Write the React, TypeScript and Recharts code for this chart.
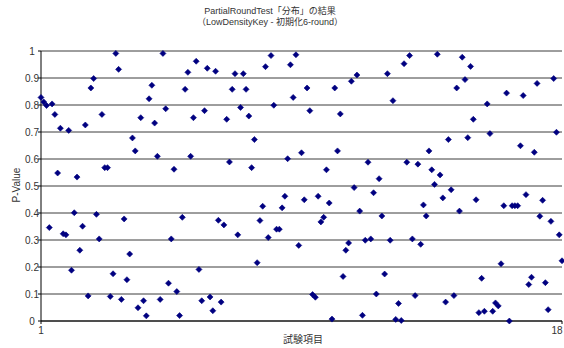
import React from "react";
import { ScatterChart, Scatter, XAxis, YAxis, CartesianGrid } from "recharts";

const pValues = [
  0.828, 0.811, 0.798, 0.346, 0.804, 0.765, 0.548, 0.714, 0.323, 0.319,
  0.706, 0.188, 0.401, 0.533, 0.262, 0.351, 0.726, 0.093, 0.863, 0.898,
  0.395, 0.304, 0.765, 0.568, 0.568, 0.091, 0.175, 0.991, 0.932, 0.080,
  0.378, 0.153, 0.248, 0.678, 0.630, 0.049, 0.753, 0.075,
  0.019, 0.823, 0.873, 0.733, 0.610, 0.080, 0.991, 0.786, 0.140, 0.304,
  0.562, 0.109, 0.020, 0.384, 0.858, 0.921, 0.610, 0.753, 0.962, 0.191,
  0.075, 0.779, 0.936, 0.089, 0.038, 0.925, 0.373, 0.070, 0.356, 0.747,
  0.589, 0.858, 0.916, 0.319, 0.791, 0.916, 0.858,
  0.759, 0.568, 0.672, 0.216, 0.372, 0.425, 0.942, 0.309, 0.983, 0.799,
  0.340, 0.340, 0.419, 0.462, 0.601, 0.949, 0.828, 0.986, 0.280, 0.623,
  0.449, 0.863, 0.779, 0.098, 0.088, 0.462, 0.367, 0.384, 0.560, 0.437,
  0.007, 0.863, 0.630, 0.767, 0.165, 0.262, 0.289, 0.888,
  0.494, 0.911, 0.407, 0.021, 0.299, 0.588, 0.304, 0.475, 0.100, 0.527,
  0.389, 0.174, 0.916, 0.299, 0.816, 0.006, 0.065, 0.002, 0.953, 0.588,
  0.983, 0.304, 0.094, 0.581, 0.284, 0.430, 0.389, 0.630, 0.560, 0.506,
  0.988, 0.541, 0.456, 0.070, 0.672, 0.486, 0.094,
  0.863, 0.407, 0.977, 0.894, 0.679, 0.943, 0.747, 0.449, 0.031, 0.158,
  0.036, 0.804, 0.694, 0.036, 0.067, 0.056, 0.212, 0.427, 0.844, 0.000,
  0.427, 0.427, 0.427, 0.649, 0.835, 0.468, 0.135, 0.162, 0.625, 0.880,
  0.388, 0.447, 0.142, 0.042, 0.369, 0.898, 0.699, 0.319, 0.223,
];

const yTicks = [0, 0.1, 0.2, 0.3, 0.4, 0.5, 0.6, 0.7, 0.8, 0.9, 1];
const yTickLabels = ["0", "0.1", "0.2", "0.3", "0.4", "0.5", "0.6", "0.7", "0.8", "0.9", "1"];
const xTickLabels = ["1", "18"];
const titleLines = ["PartialRoundTest「分布」の結果", "（LowDensityKey - 初期化6-round）"];
const xTitle = "試験項目";
const yTitle = "P-Value";

const data = pValues.map((p, i) => ({ trial: i + 1, p }));
const xTicks = [1, pValues.length];

const FONT = "'Liberation Sans', Arial, 'Noto Sans CJK JP', sans-serif";
const TEXT = "#333";

const Diamond = (props: any) => {
  const { cx, cy } = props;
  if (cx == null || cy == null) return null;
  const r = 3;
  return (
    <path
      d={`M${cx},${cy - r} L${cx + r},${cy} L${cx},${cy + r} L${cx - r},${cy} Z`}
      fill="#000080"
      stroke="#000080"
      strokeWidth={0.6}
    />
  );
};

const YTick = (props: any) => {
  const { y, payload } = props;
  const idx = yTicks.findIndex((t) => Math.abs(t - payload.value) < 1e-9);
  return (
    <text x={32} y={y} dy={3.5} textAnchor="middle" fontSize={10} fill={TEXT} fontFamily={FONT}>
      {idx >= 0 ? yTickLabels[idx] : ""}
    </text>
  );
};

const XTick = (props: any) => {
  const { x, y, payload } = props;
  const idx = xTicks.indexOf(payload.value);
  return (
    <text x={idx === 1 ? x - 5 : x} y={y} dy={8} textAnchor="middle" fontSize={10} fill={TEXT} fontFamily={FONT}>
      {idx >= 0 ? xTickLabels[idx] : ""}
    </text>
  );
};

export default function App() {
  return (
    <div style={{ position: "absolute", left: 0, top: 0, width: 564, height: 348, background: "#fff", fontFamily: FONT }}>
      <div style={{ position: "absolute", left: 0, width: 540, top: 6, textAlign: "center", fontSize: 9, lineHeight: "11px", color: TEXT }}>
        <div>{titleLines[0]}</div>
        <div>{titleLines[1]}</div>
      </div>
      <div
        style={{
          position: "absolute",
          left: 16,
          top: 185,
          transform: "translate(-50%, -50%) rotate(-90deg)",
          fontSize: 10,
          color: TEXT,
          whiteSpace: "nowrap",
        }}
      >
        {yTitle}
      </div>
      <div style={{ position: "absolute", left: 303, top: 340, transform: "translate(-50%, -50%)", fontSize: 10, lineHeight: "12px", color: TEXT, whiteSpace: "nowrap" }}>
        {xTitle}
      </div>
      <ScatterChart width={564} height={348} margin={{ top: 51, right: 2, bottom: 7, left: 0 }}>
        <CartesianGrid horizontal={true} vertical={false} stroke="#3c3c3c" strokeWidth={1} />
        <XAxis
          type="number"
          dataKey="trial"
          domain={[1, pValues.length]}
          ticks={xTicks}
          interval={0}
          height={20}
          axisLine={{ stroke: "#000" }}
          tickLine={{ stroke: "#000" }}
          tickSize={3}
          tick={<XTick />}
        />
        <YAxis
          type="number"
          dataKey="p"
          domain={[0, 1]}
          ticks={yTicks}
          interval={0}
          width={41}
          axisLine={{ stroke: "#000" }}
          tickLine={{ stroke: "#000" }}
          tickSize={3}
          tick={<YTick />}
        />
        <Scatter data={data} isAnimationActive={false} shape={<Diamond />} />
      </ScatterChart>
    </div>
  );
}
